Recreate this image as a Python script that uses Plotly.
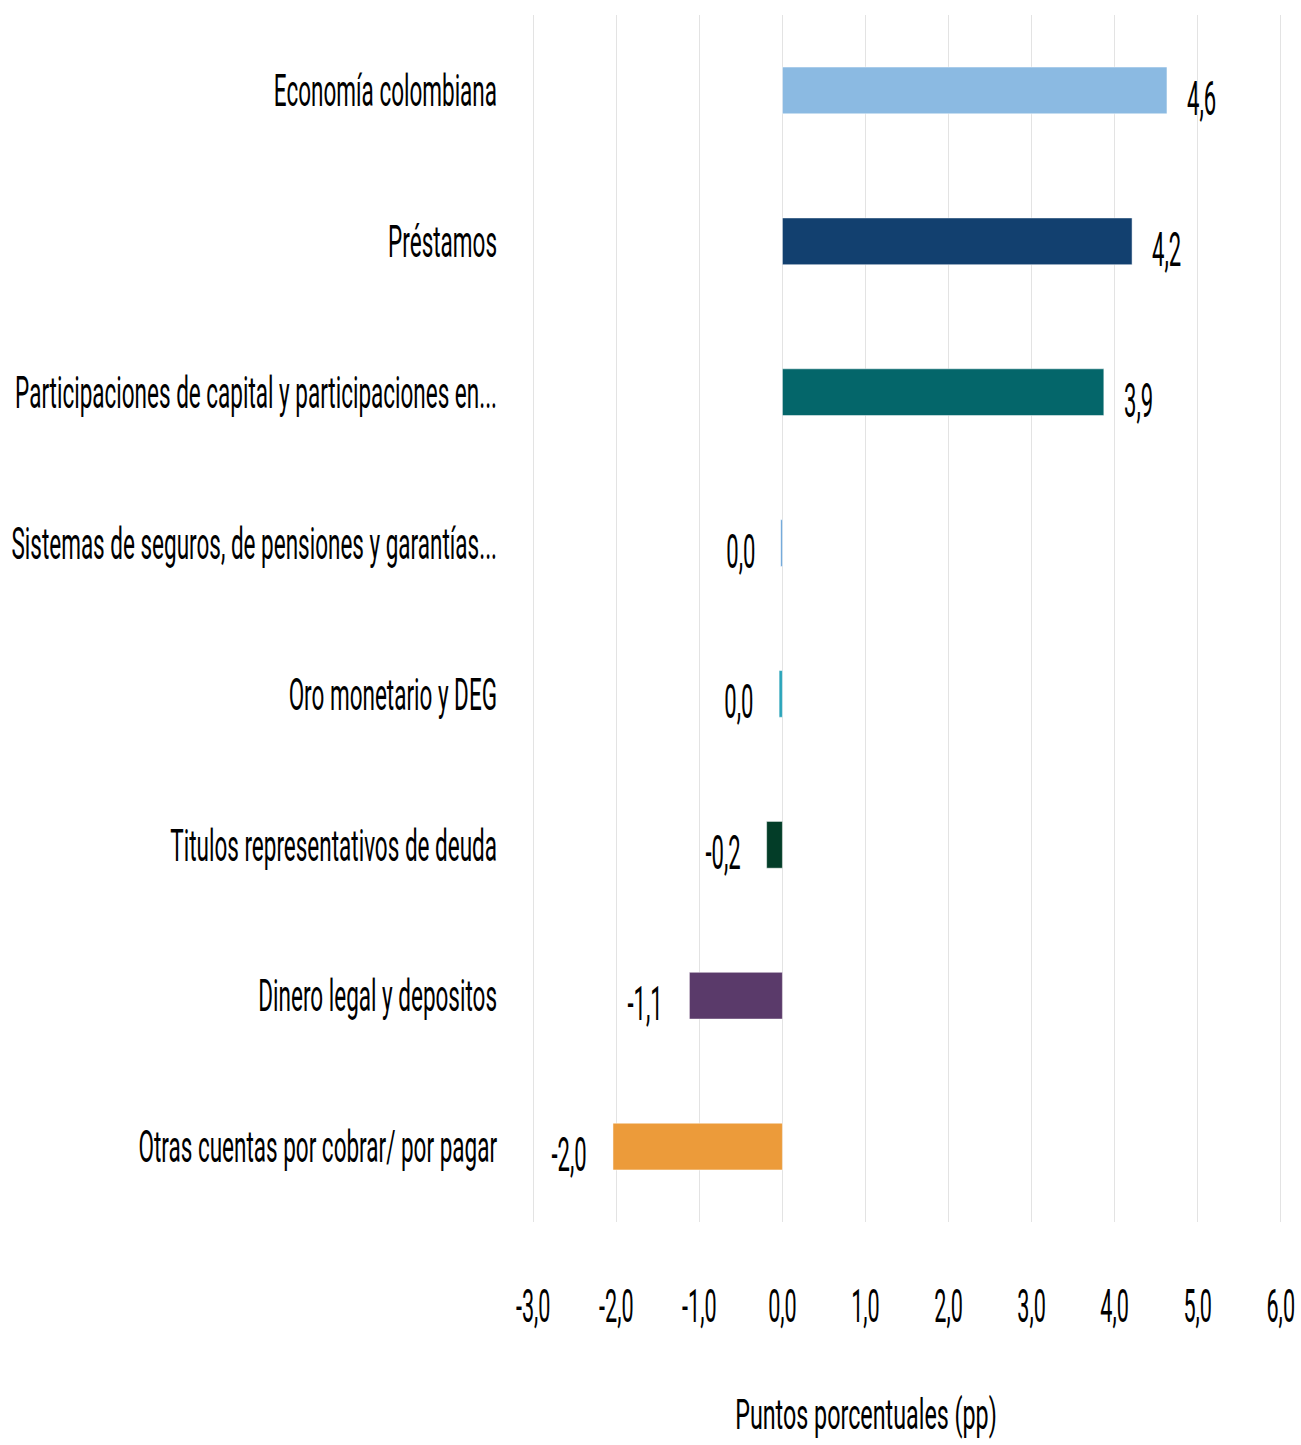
import plotly.graph_objs as go

categorias = [
    "Economía colombiana",
    "Préstamos",
    "Participaciones de capital y participaciones en...",
    "Sistemas de seguros, de pensiones y garantías...",
    "Oro monetario y DEG",
    "Titulos representativos de deuda",
    "Dinero legal y depositos",
    "Otras cuentas por cobrar/ por pagar",
]
valores = [4.63, 4.21, 3.87, -0.02, -0.04, -0.19, -1.12, -2.04]
colores = [
    "#8bbae2",
    "#12406f",
    "#04666a",
    "#5b9bd5",
    "#2ba5ba",
    "#033d28",
    "#5a3a6a",
    "#ec9b3a",
]
ticks_x = [-3, -2, -1, 0, 1, 2, 3, 4, 5, 6]
ticks_x_txt = ["-3,0", "-2,0", "-1,0", "0,0", "1,0", "2,0", "3,0", "4,0", "5,0", "6,0"]

fuente = "Roboto, sans-serif"

fig = go.Figure(
    data=[
        go.Bar(
            y=categorias,
            x=valores,
            orientation="h",
            width=0.31,
            marker_color=colores,
            hovertemplate="%{y}<br>%{x:.1f}<extra></extra>",
        )
    ]
)

# etiquetas de valor, fuera de la barra
for cat, val in zip(categorias, valores):
    fig.add_annotation(
        x=val,
        y=cat,
        text=f"{val:.1f}".replace(".", ",").replace("-0,0", "0,0"),
        showarrow=False,
        xanchor="left" if val > 0 else "right",
        align="left" if val > 0 else "right",
        xshift=18 if val > 0 else -24,
        yshift=-8,
        font=dict(size=48, color="#000000", family=fuente),
    )

fig.update_layout(
    width=1301,
    height=1445,
    template="simple_white",
    showlegend=False,
    margin=dict(l=532, r=19, t=15, b=223),
    font=dict(family=fuente, color="#000000"),
    xaxis=dict(
        range=[-3.015, 6.015],
        tickvals=ticks_x,
        ticktext=ticks_x_txt,
        showgrid=True,
        gridcolor="#e3e3e3",
        gridwidth=1,
        zeroline=False,
        showline=False,
        ticks="",
        automargin=False,
        ticklabeloverflow="allow",
        ticklabelstandoff=53,
        tickfont=dict(size=46),
        title=dict(text="Puntos porcentuales (pp)", font=dict(size=42), standoff=67),
    ),
    yaxis=dict(
        autorange="reversed",
        showline=False,
        ticks="",
        automargin=False,
        ticklabelstandoff=34,
        tickfont=dict(size=45),
    ),
)

# sin margen en el body; el texto del original esta comprimido en horizontal:
# se escala cada texto alrededor de su punto de anclaje (atributo x),
# el titulo va algo a la izquierda
comprimir = """
document.body.style.margin = '0';
document.body.style.overflow = 'hidden';
var gd = document.getElementById('{plot_id}');
var escalas = [['.ytick text', 0.50, 0], ['.xtick text', 0.47, 0],
               ['.annotation-text', 0.46, 0], ['.xtitle', 0.555, -41]];
escalas.forEach(function(e) {
  gd.querySelectorAll(e[0]).forEach(function(t) {
    var x = parseFloat(t.getAttribute('x')) || 0;
    var tr = t.getAttribute('transform') || '';
    t.setAttribute('transform', tr + ' translate(' + (x + e[2]) + ',0) scale(' + e[1] + ',1) translate(' + (-x) + ',0)');
  });
});
"""

fig.write_html("out.html", post_script=comprimir, config=dict(displayModeBar=False))
